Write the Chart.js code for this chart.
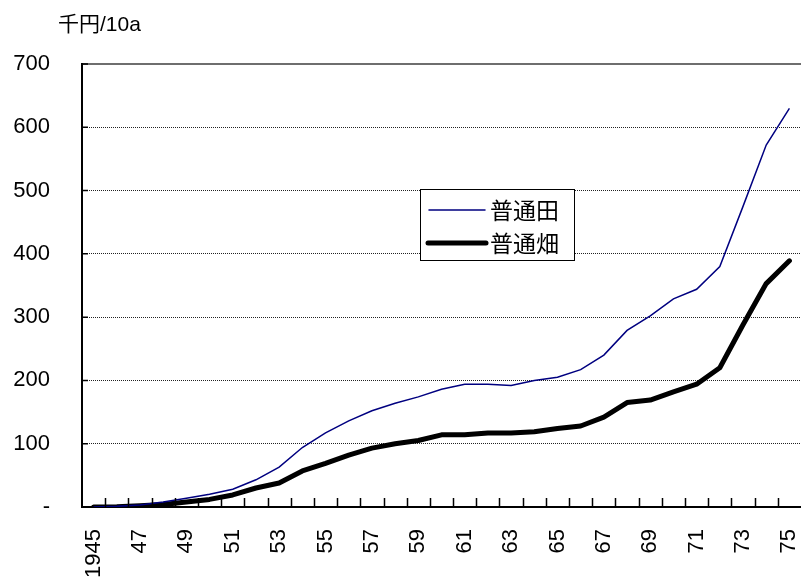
<!DOCTYPE html>
<html><head><meta charset="utf-8">
<script src="https://cdn.jsdelivr.net/npm/chart.js@4.4.1/dist/chart.umd.min.js"></script>
<style>html,body{margin:0;padding:0;background:#fff}</style>
</head><body>
<canvas id="c" width="801" height="580"></canvas>
<script>
const yearLabels = ['1945','46','47','48','49','50','51','52','53','54','55','56','57','58','59','60','61','62','63','64','65','66','67','68','69','70','71','72','73','74','75'];
const paddyValues = [0,1,3,8,14,20,28,43,63,94,117,136,152,164,174,186,194,194,192,200,205,217,240,279,302,329,344,380,475,572,630];
const uplandValues = [0,0.5,2,4,8,12,19,30,38,57,69,82,93,100,105,114,114,117,117,119,124,128,142,165,169,182,194,220,288,353,389];
const seriesNames = ['普通田','普通畑'];
const unitLabel = '千円/10a';
const yTicks = [0,100,200,300,400,500,600,700];

const FONT = '"Liberation Sans", Arial, "Noto Sans CJK JP", sans-serif';
const CJKFONT = '"Noto Sans CJK JP", "Liberation Sans", sans-serif';

const decorPlugin = {
  id: 'decor',
  afterDatasetsDraw(chart) {
    const ctx = chart.ctx;
    const ca = chart.chartArea;
    const xs = chart.scales.x, ys = chart.scales.y;
    ctx.save();
    ctx.strokeStyle = '#000';
    ctx.lineWidth = 1.5;
    ctx.beginPath();
    for (let i = 0; i < yearLabels.length - 1; i++) {
      const x = (xs.getPixelForValue(i) + xs.getPixelForValue(i + 1)) / 2;
      ctx.moveTo(Math.round(x) + 0.5, ca.bottom);
      ctx.lineTo(Math.round(x) + 0.5, ca.bottom - 9);
    }
    yTicks.forEach(v => {
      if (v === 0) return;
      const y = ys.getPixelForValue(v);
      ctx.moveTo(ca.left, y);
      ctx.lineTo(ca.left + 6, y);
    });
    ctx.stroke();
    const bx = 420, by = 189, bw = 154, bh = 71;
    ctx.fillStyle = '#fff';
    ctx.fillRect(bx, by, bw, bh);
    ctx.strokeStyle = '#000';
    ctx.lineWidth = 1;
    ctx.strokeRect(bx + 0.5, by + 0.5, bw, bh);
    const ds = chart.data.datasets;
    const rows = [{y: 210, x1: 429, x2: 485}, {y: 243, x1: 428, x2: 486}];
    ds.forEach((d, i) => {
      ctx.beginPath();
      ctx.strokeStyle = d.borderColor;
      ctx.lineWidth = d.borderWidth;
      ctx.lineCap = 'round';
      ctx.moveTo(rows[i].x1, rows[i].y);
      ctx.lineTo(rows[i].x2, rows[i].y);
      ctx.stroke();
      ctx.fillStyle = '#000';
      ctx.font = '23px ' + CJKFONT;
      ctx.textBaseline = 'middle';
      ctx.textAlign = 'left';
      ctx.fillText(d.label, 490, rows[i].y);
    });
    ctx.font = '21px ' + FONT;
    ctx.fillStyle = '#000';
    ctx.textBaseline = 'middle';
    ctx.fillText(unitLabel, 58, 25);
    ctx.restore();
  }
};

new Chart(document.getElementById('c'), {
  type: 'line',
  data: {
    labels: yearLabels,
    datasets: [
      {label: seriesNames[0], data: paddyValues, borderColor: '#000080', borderWidth: 1.5, pointRadius: 0, tension: 0, fill: false},
      {label: seriesNames[1], data: uplandValues, borderColor: '#000000', borderWidth: 5, pointRadius: 0, tension: 0, fill: false, borderJoinStyle: 'round', borderCapStyle: 'round'}
    ]
  },
  options: {
    responsive: false,
    animation: false,
    devicePixelRatio: 1,
    layout: {padding: {top: 64, right: 0, left: 0, bottom: 0}},
    plugins: {legend: {display: false}, tooltip: {enabled: false}, title: {display: false}},
    scales: {
      x: {
        type: 'category',
        offset: true,
        grid: {display: false, drawTicks: false},
        border: {display: true, color: '#000', width: 2},
        ticks: {
          autoSkip: false, minRotation: 90, maxRotation: 90, padding: 22,
          color: '#000', font: {family: FONT, size: 22},
          callback: (v, i) => (i % 2 === 0 ? yearLabels[i] : '')
        },
        afterFit: s => { s.height = 73; s.paddingRight = 0; s.paddingLeft = 0; }
      },
      y: {
        min: 0, max: 700,
        afterBuildTicks: s => { s.ticks = yTicks.map(v => ({value: v})); },
        grid: {
          drawTicks: false,
          color: c => (c.tick && c.tick.value === 700 ? '#6e6e6e' : (c.tick && c.tick.value === 0 ? 'rgba(0,0,0,0)' : '#222')),
          lineWidth: c => (c.tick && c.tick.value === 700 ? 2 : 1)
        },
        border: {display: true, color: '#000', width: 2, dash: c => (c.tick && c.tick.value === 700 ? [] : [1, 1])},
        ticks: {
          padding: 32, color: '#000', font: {family: FONT, size: 22},
          callback: v => (v === 0 ? '-' : String(v))
        },
        afterFit: s => { s.width = 82; s.paddingTop = 0; s.paddingBottom = 0; }
      }
    }
  },
  plugins: [decorPlugin]
});
</script>
</body></html>
